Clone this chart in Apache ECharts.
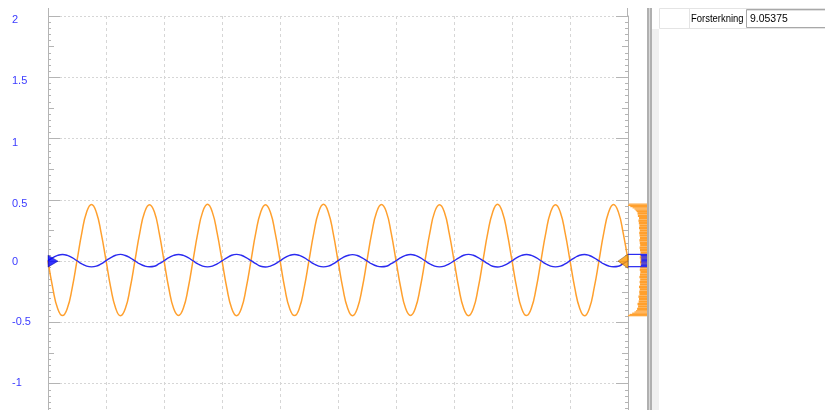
<!DOCTYPE html>
<html>
<head>
<meta charset="utf-8">
<script src="https://cdn.jsdelivr.net/npm/echarts@6/dist/echarts.min.js"></script>
<style>
html,body{margin:0;padding:0;background:#fff;overflow:hidden;width:825px;height:410px;}
#chart{position:absolute;left:0;top:0;width:825px;height:445px;}
</style>
</head>
<body>
<div id="chart"></div>
<script>
// ---- data ----
// one sample every 1/12 of a horizontal division, 10 divisions
const sampleStep = 1 / 12;
const inputSignal = [ // blue channel (V)
  0.003, 0.028, 0.047, 0.054, 0.047, 0.028, 0.003, -0.022, -0.041, -0.047, -0.041, -0.022,
  0.004, 0.029, 0.048, 0.055, 0.046, 0.027, 0.002, -0.023, -0.040, -0.046, -0.042, -0.021,
  0.003, 0.028, 0.047, 0.054, 0.047, 0.028, 0.003, -0.022, -0.041, -0.047, -0.041, -0.022,
  0.002, 0.027, 0.048, 0.055, 0.048, 0.029, 0.004, -0.021, -0.042, -0.048, -0.040, -0.023,
  0.003, 0.028, 0.047, 0.054, 0.047, 0.028, 0.003, -0.022, -0.041, -0.047, -0.041, -0.022,
  0.004, 0.029, 0.046, 0.053, 0.046, 0.027, 0.002, -0.023, -0.040, -0.046, -0.042, -0.021,
  0.003, 0.028, 0.047, 0.054, 0.047, 0.028, 0.003, -0.022, -0.041, -0.047, -0.041, -0.022,
  0.002, 0.027, 0.048, 0.055, 0.048, 0.029, 0.004, -0.021, -0.042, -0.048, -0.040, -0.023,
  0.003, 0.028, 0.047, 0.054, 0.047, 0.028, 0.003, -0.022, -0.041, -0.047, -0.041, -0.022,
  0.004, 0.029, 0.048, 0.054, 0.046, 0.027, 0.002, -0.023, -0.040, -0.046, -0.042, -0.021,
  0.003
];
const outputSignal = [ // orange channel (V)
  0.005, -0.222, -0.386, -0.444, -0.385, -0.220, 0.004, 0.231, 0.401, 0.463, 0.399, 0.229,
  0.006, -0.220, -0.384, -0.446, -0.387, -0.219, 0.006, 0.233, 0.400, 0.460, 0.402, 0.231,
  0.004, -0.221, -0.387, -0.443, -0.384, -0.221, 0.005, 0.230, 0.402, 0.465, 0.400, 0.228,
  0.005, -0.219, -0.385, -0.445, -0.386, -0.220, 0.004, 0.232, 0.399, 0.461, 0.401, 0.230,
  0.006, -0.222, -0.386, -0.444, -0.385, -0.218, 0.006, 0.231, 0.401, 0.464, 0.399, 0.229,
  0.004, -0.220, -0.384, -0.446, -0.386, -0.221, 0.005, 0.233, 0.400, 0.462, 0.402, 0.231,
  0.005, -0.221, -0.387, -0.443, -0.384, -0.219, 0.004, 0.230, 0.402, 0.460, 0.400, 0.228,
  0.006, -0.219, -0.385, -0.445, -0.387, -0.220, 0.006, 0.232, 0.399, 0.465, 0.401, 0.230,
  0.004, -0.222, -0.386, -0.444, -0.385, -0.221, 0.005, 0.231, 0.401, 0.461, 0.399, 0.229,
  0.005, -0.220, -0.384, -0.446, -0.386, -0.218, 0.004, 0.233, 0.400, 0.463, 0.402, 0.231,
  0.006
];
// value histograms shown at the right edge (bin low edge, relative count)
const outputBinLow = [-0.45,-0.44,-0.43,-0.42,-0.41,-0.4,-0.38,-0.36,-0.34,-0.32,-0.3,-0.28,-0.26,-0.24,-0.22,-0.2,-0.18,-0.16,-0.14,-0.12,-0.1,-0.08,-0.06,-0.04,-0.02,0,0.02,0.04,0.06,0.08,0.1,0.12,0.14,0.16,0.18,0.2,0.22,0.24,0.26,0.28,0.3,0.32,0.34,0.36,0.38,0.4,0.41,0.42,0.43,0.44,0.45,0.46];
const outputBinCount = [1.0,0.92,0.78,0.66,0.58,0.52,0.47,0.50,0.44,0.42,0.45,0.40,0.41,0.38,0.42,0.37,0.39,0.36,0.40,0.37,0.35,0.38,0.36,0.34,0.37,0.35,0.38,0.36,0.34,0.37,0.39,0.36,0.38,0.40,0.37,0.39,0.41,0.38,0.42,0.40,0.43,0.45,0.42,0.48,0.50,0.55,0.60,0.66,0.76,0.88,1.0,0.95];
const outputBinWidth = 0.01;
const inputBinLow = [-0.05,-0.04,-0.03,-0.02,-0.01,0,0.01,0.02,0.03,0.04,0.05];
const inputBinCount = [1.0,0.32,0.30,0.30,0.31,0.30,0.30,0.31,0.30,0.33,1.0];
const inputBinWidth = 0.01;
// channel offset markers
const inputOffset = 0;
const outputOffset = 0;
// y axis
const yMin = -1.5, yMax = 2, yMajor = 0.5, yMid = 0.25;
const divisions = 10;
const gainLabel = 'Forsterkning';
const gainValue = '9.05375';

// ---- build ----
const ORANGE = '#ffa02e', BLUE = '#2b2bf0', AXIS = '#b4b4b4', GRIDC = '#d6d6d6';
const inPts = inputSignal.map((v, i) => [i * sampleStep, v]);
const outPts = outputSignal.map((v, i) => [i * sampleStep, v]);
const outHist = outputBinLow.map((lo, i) => [lo, lo + (i < outputBinLow.length - 1 ? outputBinLow[i + 1] - lo : outputBinWidth), outputBinCount[i]]);
const inHist = inputBinLow.map((lo, i) => [lo, lo + inputBinWidth, inputBinCount[i]]);

const chart = echarts.init(document.getElementById('chart'), null, {renderer: 'canvas', width: 825, height: 445});
const FONT = 'Liberation Sans, DejaVu Sans, sans-serif';
const labelFont = {fontFamily: FONT, fontSize: 11, color: '#3b3bff'};

function histItem(params, api) {
  const lo = api.value(0), hi = api.value(1), c = api.value(2);
  const pA = api.coord([0, lo]);
  const pB = api.coord([c, hi]);
  const x = Math.min(pA[0], pB[0]);
  return {
    type: 'rect',
    shape: {x: x, y: pB[1], width: Math.abs(pA[0] - pB[0]), height: Math.max(1, pA[1] - pB[1])},
    style: {fill: api.visual('color')}
  };
}

const yCommon = {type: 'value', min: yMin, max: yMax, gridIndex: 0};
chart.setOption({
  animation: false,
  backgroundColor: '#ffffff',
  grid: [
    {left: 48, right: 197, top: 16, bottom: 0, containLabel: false, outerBoundsMode: 'none'},
    {left: 628, width: 19, top: 16, bottom: 0, containLabel: false, outerBoundsMode: 'none'}
  ],
  xAxis: [
    {type: 'value', gridIndex: 0, min: 0, max: divisions, interval: 1,
     axisLine: {show: false}, axisTick: {show: false}, axisLabel: {show: false},
     splitLine: {show: true, lineStyle: {color: GRIDC, type: [3, 3], width: 1}}},
    {type: 'value', gridIndex: 1, min: 0, max: 1, inverse: true, show: false}
  ],
  yAxis: [
    Object.assign({}, yCommon, {position: 'left', interval: yMajor,
      axisLine: {show: true, lineStyle: {color: AXIS}},
      axisTick: {show: true, inside: true, length: 12, lineStyle: {color: AXIS}},
      minorTick: {show: true, splitNumber: 10, length: 3, lineStyle: {color: AXIS}},
      axisLabel: Object.assign({show: true, inside: false, align: 'left', margin: 36,
        formatter: v => v > 0 ? '{a|' + v + '}' : (v === 0 ? '{b|0}' : '{c|' + v + '}'),
        rich: {a: Object.assign({padding: [8, 0, 0, 0]}, labelFont),
               b: Object.assign({padding: [2, 0, 0, 0]}, labelFont),
               c: Object.assign({padding: [0, 0, 1, 0]}, labelFont)}}, labelFont),
      splitLine: {show: true, lineStyle: {color: GRIDC, type: [2, 2], width: 1}}}),
    Object.assign({}, yCommon, {position: 'left', offset: 0, interval: yMid,
      axisLine: {show: false}, axisLabel: {show: false}, splitLine: {show: false},
      axisTick: {show: true, inside: true, length: 6, lineStyle: {color: AXIS}}}),
    Object.assign({}, yCommon, {position: 'right', offset: 0, interval: yMajor,
      axisLine: {show: true, lineStyle: {color: AXIS}}, axisLabel: {show: false}, splitLine: {show: false},
      axisTick: {show: true, inside: true, length: 12, lineStyle: {color: AXIS}},
      minorTick: {show: true, splitNumber: 10, length: 3, lineStyle: {color: AXIS}}}),
    Object.assign({}, yCommon, {position: 'right', offset: 0, interval: yMid,
      axisLine: {show: false}, axisLabel: {show: false}, splitLine: {show: false},
      axisTick: {show: true, inside: true, length: 6, lineStyle: {color: AXIS}}}),
    {type: 'value', gridIndex: 1, min: yMin, max: yMax, show: false}
  ],
  series: [
    {type: 'line', name: 'Output', xAxisIndex: 0, yAxisIndex: 0, data: outPts, showSymbol: false,
     smooth: 0.5, lineStyle: {color: ORANGE, width: 1.5}, z: 3},
    {type: 'line', name: 'Input', xAxisIndex: 0, yAxisIndex: 0, data: inPts, showSymbol: false,
     smooth: 0.5, lineStyle: {color: BLUE, width: 1.4}, z: 4},
    {type: 'custom', xAxisIndex: 1, yAxisIndex: 4, data: outHist, renderItem: histItem,
     itemStyle: {color: ORANGE}, encode: {x: 2, y: [0, 1]}, clip: false, z: 3},
    {type: 'custom', xAxisIndex: 1, yAxisIndex: 4, data: inHist, renderItem: histItem,
     itemStyle: {color: BLUE}, encode: {x: 2, y: [0, 1]}, clip: false, z: 4},
    {type: 'scatter', xAxisIndex: 0, yAxisIndex: 0, data: [[0, inputOffset]], symbol: 'triangle',
     symbolSize: [12, 10], symbolRotate: -90, symbolOffset: [5, 0], clip: false,
     itemStyle: {color: '#0000ff', borderColor: '#00008a', borderWidth: 0.5}, z: 6},
    {type: 'scatter', xAxisIndex: 0, yAxisIndex: 0, data: [[divisions, outputOffset]], symbol: 'triangle',
     symbolSize: [14, 10], symbolRotate: 90, symbolOffset: [-5, 0], clip: false,
     itemStyle: {color: '#ff9a00', borderColor: '#8a5a10', borderWidth: 0.7}, z: 6}
  ],
  graphic: [
    // axis line stubs above the top tick
    {type: 'line', shape: {x1: 48.5, y1: 8, x2: 48.5, y2: 16}, style: {stroke: AXIS, lineWidth: 1}, silent: true},
    {type: 'line', shape: {x1: 627.5, y1: 8, x2: 627.5, y2: 16}, style: {stroke: AXIS, lineWidth: 1}, silent: true},
    // splitter
    {type: 'rect', shape: {x: 647, y: 8, width: 5, height: 440}, style: {fill: '#b0b0b0'}, silent: true},
    {type: 'rect', shape: {x: 649, y: 8, width: 1, height: 440}, style: {fill: '#d8d8d8'}, silent: true},
    {type: 'rect', shape: {x: 652, y: 29, width: 7, height: 420}, style: {fill: '#f0f0f0'}, silent: true},
    // table header row
    {type: 'rect', shape: {x: 659.5, y: 8.5, width: 170, height: 20}, style: {fill: '#ffffff', stroke: '#e4e4e4', lineWidth: 1}, silent: true},
    {type: 'line', shape: {x1: 689.5, y1: 8, x2: 689.5, y2: 29}, style: {stroke: '#e4e4e4', lineWidth: 1}, silent: true},
    {type: 'rect', shape: {x: 746.5, y: 9.5, width: 85, height: 18}, style: {fill: '#ffffff', stroke: '#a8a8a8', lineWidth: 1}, silent: true},
    {type: 'line', shape: {x1: 747, y1: 10.5, x2: 830, y2: 10.5}, style: {stroke: '#e0e0e0', lineWidth: 1}, silent: true},
    {type: 'text', x: 691, y: 18.5, scaleX: 0.86, style: {text: gainLabel, fontFamily: FONT, fontSize: 11, fill: '#000', verticalAlign: 'middle', align: 'left'}, silent: true},
    {type: 'text', x: 750, y: 18.5, scaleX: 0.95, style: {text: gainValue, fontFamily: FONT, fontSize: 11, fill: '#000', verticalAlign: 'middle', align: 'left'}, silent: true}
  ]
});
</script>
</body>
</html>
